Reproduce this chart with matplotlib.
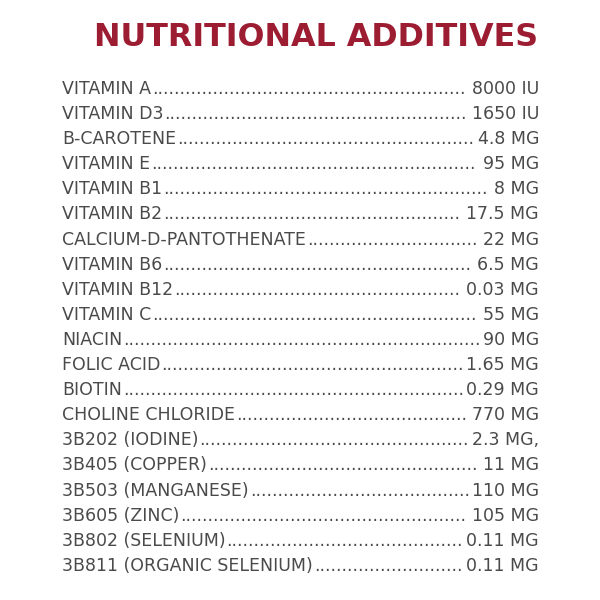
import matplotlib
matplotlib.use("Agg")
import matplotlib.pyplot as plt

title = "NUTRITIONAL ADDITIVES"
names = ["VITAMIN A", "VITAMIN D3", "B-CAROTENE", "VITAMIN E", "VITAMIN B1",
         "VITAMIN B2", "CALCIUM-D-PANTOTHENATE", "VITAMIN B6", "VITAMIN B12",
         "VITAMIN C", "NIACIN", "FOLIC ACID", "BIOTIN", "CHOLINE CHLORIDE",
         "3B202 (IODINE)", "3B405 (COPPER)", "3B503 (MANGANESE)", "3B605 (ZINC)",
         "3B802 (SELENIUM)", "3B811 (ORGANIC SELENIUM)"]
amounts = ["8000 IU", "1650 IU", "4.8 MG", "95 MG", "8 MG", "17.5 MG", "22 MG",
           "6.5 MG", "0.03 MG", "55 MG", "90 MG", "1.65 MG", "0.29 MG", "770 MG",
           "2.3 MG,", "11 MG", "110 MG", "105 MG", "0.11 MG", "0.11 MG"]

plt.rcParams['font.family'] = ['Liberation Sans Narrow', 'DejaVu Sans']

fig = plt.figure(figsize=(6, 6), dpi=100)
W = H = 600
grey = "#4a4a4a"
fs = 12.5

fig.canvas.draw()
r = fig.canvas.get_renderer()

tt = fig.text(538 / W, 1 - 38 / H, title, ha="right", va="center", fontsize=28,
              fontweight="bold", color="#9c1c32")
# stretch title to the reference width (about 446 px)
tw = tt.get_window_extent(r).width
tt.set_fontsize(28 * 446 / tw)

left, right = 62, 539
y0, dy = 89, 25.1
dot = fig.text(0, 0, ".", fontsize=fs)
dw = dot.get_window_extent(r).width
dot.remove()
for i, (n, a) in enumerate(zip(names, amounts)):
    y = 1 - (y0 + i * dy) / H
    t1 = fig.text(left / W, y, n, ha="left", va="center", fontsize=fs, color=grey)
    t2 = fig.text(right / W, y, a, ha="right", va="center", fontsize=fs, color=grey)
    e1 = t1.get_window_extent(r)
    e2 = t2.get_window_extent(r)
    gap = e2.x0 - e1.x1 - 3
    k = max(int(gap // dw), 0)
    fig.text((e1.x1 + 1) / W, y, "." * k, ha="left", va="center", fontsize=fs, color=grey)

fig.savefig("out.png", dpi=100, facecolor="white")
